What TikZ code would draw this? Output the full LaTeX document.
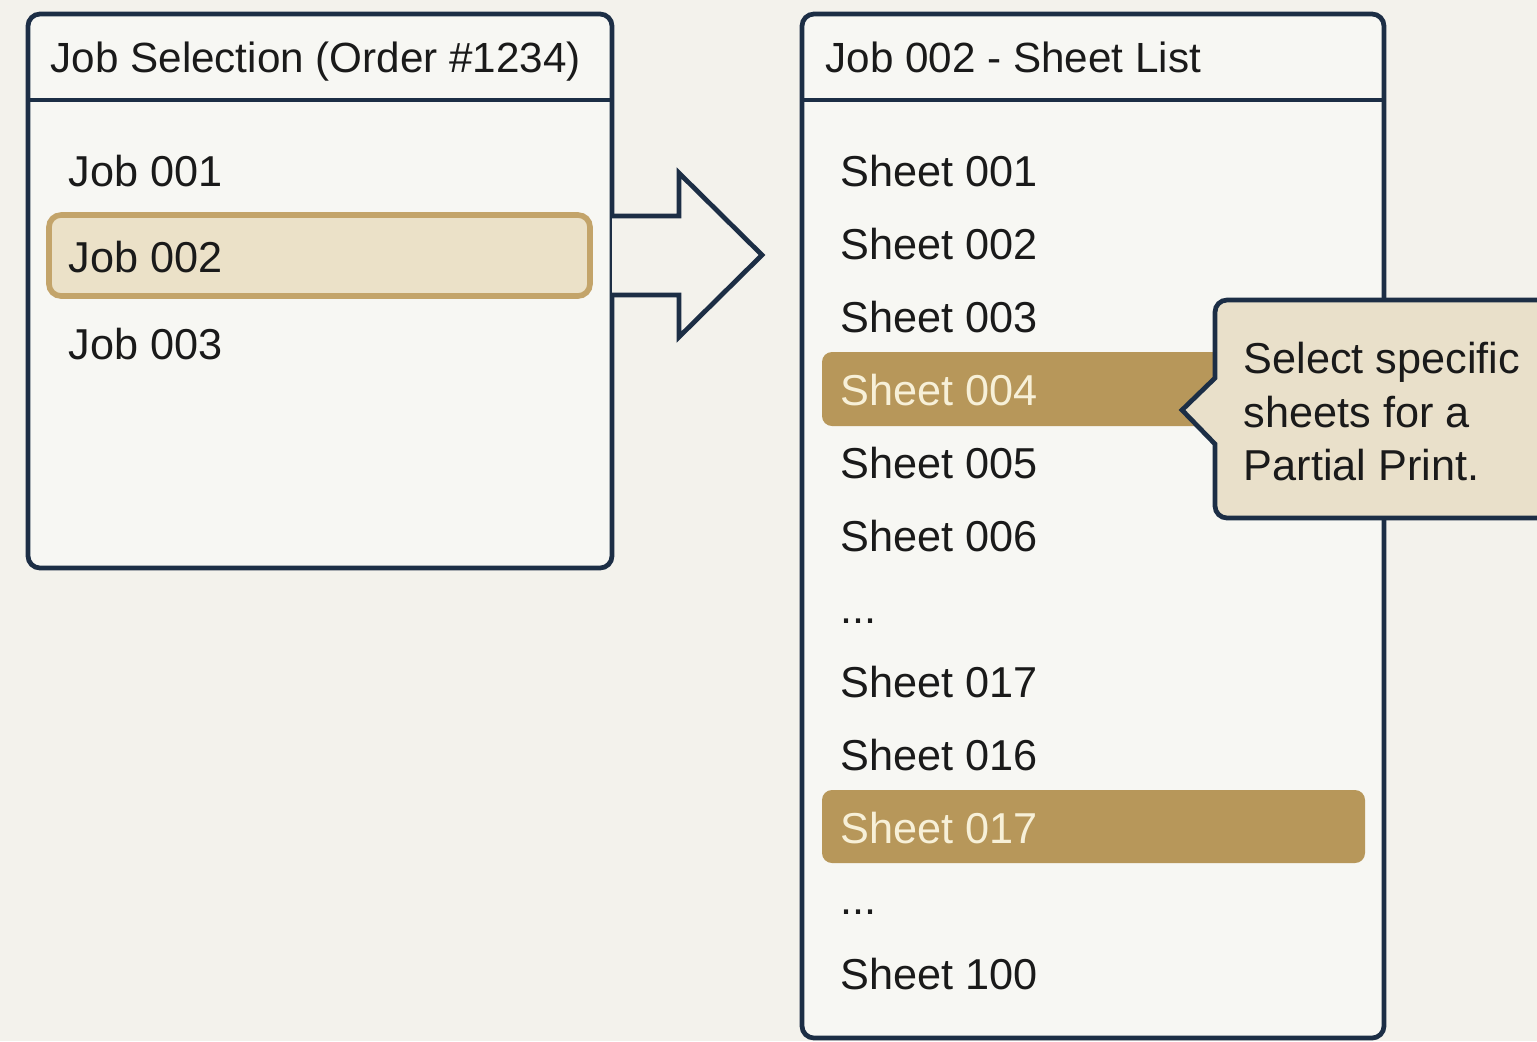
\documentclass[tikz,border=0pt]{standalone}
\usepackage{fontspec}
\setmainfont{Liberation Sans}

\definecolor{navy}{HTML}{1C2E45}
\definecolor{paper}{HTML}{F3F2EC}
\definecolor{boxfill}{HTML}{F7F7F3}
\definecolor{gold}{HTML}{B7975A}
\definecolor{goldline}{HTML}{C3A46A}
\definecolor{sand}{HTML}{EBE1C8}
\definecolor{tipfill}{HTML}{E9E0CA}
\definecolor{cream}{HTML}{F7F0D8}
\definecolor{ink}{HTML}{1A1A1A}

\tikzset{
  panel/.style={draw=navy, fill=boxfill, line width=1.35pt, rounded corners=0.12cm},
  divider/.style={draw=navy, line width=1.35pt},
  item/.style={anchor=base west, inner sep=0pt, text=ink, font=\fontsize{12.3}{15}\selectfont},
  headline/.style={item, font=\fontsize{12}{15}\selectfont},
  picked/.style={item, text=cream},
  goldbar/.style={fill=gold, rounded corners=0.1cm},
}

\begin{document}
\begin{tikzpicture}[x=0.01cm, y=-0.01cm, line join=miter]
        \clip (0,0) rectangle (1537,1041);
        \fill[paper] (0,0) rectangle (1537,1041);

        % job panel
        \draw[panel] (28,14) rectangle (612,568);
        \draw[divider] (28,100) -- (612,100);
        \node[headline] (jobhead) at (50,72) {Job Selection (Order \#1234)};

        \node[item] (job1) at (68,186) {Job 001};
        \draw[fill=sand, draw=goldline, line width=1.6pt, rounded corners=0.12cm] (49,215) rectangle (590,296);
        \node[item] (job2) at (68,272) {Job 002};
        \node[item] (job3) at (68,359) {Job 003};

        % big arrow
        \draw[navy, fill=paper, line width=1.35pt] (612,216) -- (679,216) -- (679,173)
            -- (762,255) -- (679,337) -- (679,295) -- (612,295);

        % sheet panel
        \draw[panel] (802,14) rectangle (1384,1038);
        \draw[divider] (802,100) -- (1384,100);
        \node[headline] (sheethead) at (825,72) {Job 002 - Sheet List};

        \node[item] (s1) at (840,186) {Sheet 001};
        \node[item] (s2) at (840,259) {Sheet 002};
        \node[item] (s3) at (840,332) {Sheet 003};
        \fill[goldbar] (822,352) rectangle (1240,426);
        \node[picked] (s4) at (840,405) {Sheet 004};
        \node[item] (s5) at (840,478) {Sheet 005};
        \node[item] (s6) at (840,551) {Sheet 006};
        \node[item] (gap1) at (840,623) {...};
        \node[item] (s17a) at (840,697) {Sheet 017};
        \node[item] (s16) at (840,770) {Sheet 016};
        \fill[goldbar] (822,790) rectangle (1365,863);
        \node[picked] (s17b) at (840,843) {Sheet 017};
        \node[item] (gap2) at (840,914) {...};
        \node[item] (s100) at (840,989) {Sheet 100};

        % callout
        \draw[navy, fill=tipfill, line width=1.35pt] (1215,378) [rounded corners=0.12cm] -- (1215,300)
            -- (1570,300) -- (1570,518) -- (1215,518) [sharp corners] -- (1215,444) -- (1182,410) -- cycle;
        \node[item] (tip1) at (1243,373) {Select specific};
        \node[item] (tip2) at (1243,427) {sheets for a};
        \node[item] (tip3) at (1243,480) {Partial Print.};
    \end{tikzpicture}
\end{document}
